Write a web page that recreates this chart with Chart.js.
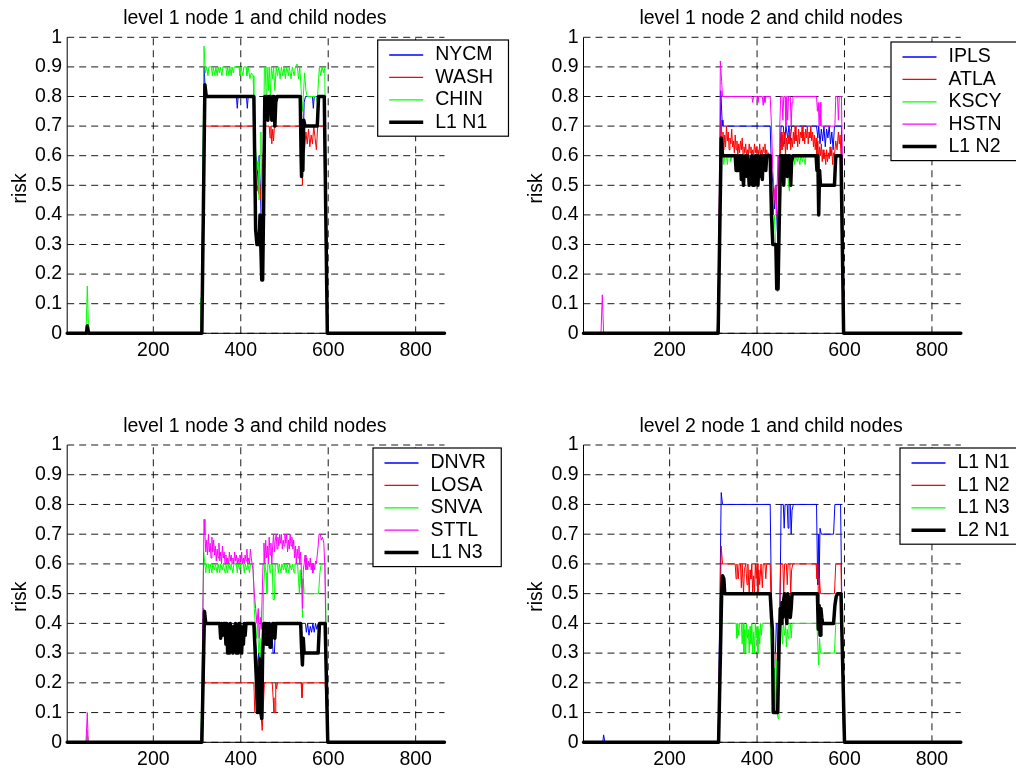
<!DOCTYPE html>
<html>
<head>
<meta charset="utf-8">
<script src="https://cdn.jsdelivr.net/npm/chart.js@4"></script>
<style>
  html, body { margin: 0; padding: 0; background: #fff; overflow: hidden; }
  #wrap { position: relative; width: 1016px; height: 771px; overflow: hidden; }
  canvas { position: absolute; }
</style>
</head>
<body>
<div id="wrap">
  <canvas id="c1" width="512" height="385" style="left:0;top:0"></canvas>
  <canvas id="c2" width="508" height="385" style="left:508px;top:0"></canvas>
  <canvas id="c3" width="512" height="400" style="left:0;top:385px"></canvas>
  <canvas id="c4" width="508" height="400" style="left:508px;top:385px"></canvas>
</div>
<script>
const FONT = "'Liberation Sans', Arial, Helvetica, sans-serif";
const FONT_SIZE = 19.5;
const xTicks = [200, 400, 600, 800];
const yTicks = [0, 0.1, 0.2, 0.3, 0.4, 0.5, 0.6, 0.7, 0.8, 0.9, 1];
const xMin = 3, xMax = 866;

// risk per time step, [t, risk] breakpoints

// level 1 node 1 children
const nycm = [[3,0],[46,0],[49,0.03],[52,0],[309,0],[312,0.3],[316,0.9],[319,0.82],[322,0.8],[390,0.8],[392,0.76],[394,0.8],
  [413,0.8],[415,0.76],[417,0.8],[430,0.8],[434,0.6],[437,0.58],[440,0.5],[442,0.6],[445,0.48],[448,0.3],[452,0.5],[455,0.8],
  [461,0.8],[463,0.72],[465,0.8],[477,0.8],[479,0.7],[481,0.8],[536,0.8],[538,0.76],[541,0.55],[545,0.78],[548,0.8],[564,0.8],
  [566,0.76],[568,0.8],[592,0.8],[596,0.4],[599,0],[866,0]];
const wash = [[3,0],[47,0],[49,0.02],[51,0],[309,0],[313,0.4],[317,0.7],[430,0.7],[434,0.55],[437,0.48],[439,0.5],[441,0.47],
  [443,0.52],[445,0.45],[447,0.5],[451,0.6],[455,0.7],[465,0.7],[467,0.66],[469,0.7],[471,0.64],[473,0.69],[475,0.65],[477,0.7],
  [536,0.7],[538,0.66],[540,0.62],[541,0.5],[543,0.67],[546,0.62],[549,0.68],[552,0.64],[555,0.69],[558,0.63],[561,0.67],
  [564,0.64],[567,0.7],[570,0.66],[573,0.62],[576,0.7],[591,0.7],[594,0.55],[597,0.3],[599,0],[866,0]];
const chin = [[3,0],[46,0],[49,0.16],[52,0],[307,0],[309,0.12],[311,0.02],[313,0.5],[316,0.97],[319,0.88],[322,0.9],[325,0.87],
  [327,0.9],[333,0.9],[335,0.87],[337,0.9],[341,0.87],[343,0.9],[346,0.87],[348,0.9],[351,0.88],[353,0.9],[357,0.87],[359,0.9],
  [366,0.9],[368,0.87],[370,0.9],[373,0.87],[375,0.9],[378,0.87],[380,0.9],[383,0.88],[385,0.9],[396,0.9],[398,0.87],[400,0.9],
  [405,0.87],[407,0.9],[412,0.9],[414,0.87],[417,0.9],[421,0.86],[424,0.88],[428,0.87],[430,0.8],[434,0.62],[437,0.55],[440,0.58],
  [442,0.45],[444,0.6],[446,0.68],[448,0.45],[450,0.3],[452,0.6],[454,0.9],[456,0.9],[458,0.8],[460,0.9],[463,0.82],[465,0.9],
  [468,0.8],[470,0.9],[473,0.86],[475,0.9],[478,0.82],[481,0.9],[484,0.87],[487,0.9],[490,0.86],[493,0.9],[496,0.87],[499,0.9],
  [502,0.86],[505,0.9],[509,0.87],[511,0.9],[515,0.86],[518,0.9],[522,0.87],[525,0.9],[529,0.91],[532,0.86],[535,0.9],[537,0.85],
  [539,0.8],[541,0.75],[543,0.8],[546,0.88],[549,0.82],[552,0.8],[572,0.8],[575,0.78],[578,0.86],[580,0.9],[583,0.87],[586,0.9],
  [589,0.88],[592,0.9],[595,0.5],[598,0.1],[600,0],[866,0]];
const l1n1 = [[3,0],[47,0],[49,0.025],[52,0],[311,0],[318,0.84],[321,0.8],[430,0.8],[434,0.35],[437,0.3],[442,0.3],[444,0.4],
  [446,0.4],[448,0.18],[450,0.18],[452,0.4],[455,0.8],[460,0.8],[462,0.72],[464,0.8],[469,0.8],[471,0.72],[473,0.8],[476,0.8],
  [478,0.7],[480,0.78],[483,0.8],[536,0.8],[538,0.6],[539,0.53],[541,0.7],[542,0.55],[544,0.72],[547,0.7],[575,0.7],[578,0.8],
  [591,0.8],[598,0],[866,0]];

// level 1 node 2 children
const ipls = [[3,0],[309,0],[311,0.1],[313,0.3],[317,0.82],[320,0.72],[322,0.7],[430,0.7],[433,0.55],[437,0.5],[440,0.42],
  [443,0.5],[446,0.35],[449,0.3],[452,0.6],[455,0.7],[460,0.7],[463,0.64],[466,0.7],[470,0.66],[473,0.7],[476,0.65],[479,0.7],
  [536,0.7],[539,0.66],[541,0.7],[544,0.64],[547,0.69],[550,0.65],[553,0.7],[556,0.63],[559,0.69],[562,0.66],[565,0.7],
  [568,0.64],[571,0.68],[574,0.62],[577,0.7],[593,0.7],[597,0.2],[600,0],[866,0]];
const atla = [[3,0],[309,0],[312,0.2],[315,0.6],[318,0.72],[320,0.64],[322,0.68],[324,0.62],[326,0.67],[328,0.63],[330,0.7],
  [332,0.65],[334,0.68],[336,0.62],[338,0.66],[340,0.64],[342,0.69],[344,0.63],[346,0.65],[348,0.61],[350,0.67],[352,0.62],
  [354,0.65],[356,0.6],[358,0.64],[360,0.61],[362,0.65],[364,0.62],[366,0.66],[368,0.6],[370,0.63],[372,0.61],[374,0.64],
  [376,0.6],[378,0.62],[380,0.6],[382,0.64],[384,0.61],[386,0.63],[388,0.6],[390,0.62],[392,0.6],[394,0.64],[396,0.61],
  [398,0.63],[400,0.6],[402,0.62],[404,0.6],[406,0.64],[408,0.6],[410,0.62],[412,0.6],[414,0.63],[416,0.61],[418,0.64],
  [420,0.6],[422,0.62],[424,0.6],[426,0.61],[429,0.6],[432,0.5],[435,0.45],[437,0.4],[440,0.48],[443,0.5],[446,0.4],[449,0.3],
  [452,0.55],[455,0.68],[457,0.62],[459,0.67],[461,0.63],[463,0.68],[465,0.6],[467,0.66],[469,0.62],[471,0.67],[473,0.64],
  [475,0.69],[477,0.62],[479,0.66],[481,0.63],[483,0.68],[485,0.64],[487,0.7],[489,0.65],[491,0.67],[493,0.63],[495,0.69],
  [497,0.64],[499,0.68],[501,0.66],[503,0.7],[505,0.65],[507,0.68],[509,0.64],[511,0.69],[513,0.66],[515,0.7],[517,0.64],
  [519,0.68],[521,0.66],[523,0.7],[525,0.65],[527,0.68],[529,0.63],[531,0.67],[533,0.62],[535,0.66],[537,0.6],[539,0.65],
  [541,0.58],[543,0.63],[545,0.6],[547,0.64],[549,0.58],[551,0.62],[553,0.59],[555,0.61],[557,0.57],[559,0.62],[561,0.58],
  [563,0.61],[565,0.59],[567,0.63],[569,0.6],[571,0.62],[573,0.57],[575,0.61],[577,0.6],[580,0.65],[583,0.62],[586,0.68],
  [588,0.64],[590,0.67],[592,0.6],[595,0.3],[598,0],[866,0]];
const kscy = [[3,0],[309,0],[312,0.2],[316,0.62],[319,0.6],[322,0.6],[324,0.57],[326,0.6],[330,0.6],[332,0.57],[334,0.6],
  [338,0.6],[340,0.58],[342,0.6],[428,0.6],[432,0.5],[435,0.4],[437,0.35],[440,0.4],[442,0.3],[445,0.25],[447,0.14],[449,0.2],
  [452,0.5],[455,0.6],[458,0.55],[460,0.5],[462,0.6],[466,0.55],[468,0.6],[472,0.5],[474,0.48],[476,0.58],[478,0.6],[484,0.6],
  [486,0.57],[488,0.6],[492,0.58],[494,0.6],[498,0.57],[500,0.6],[504,0.58],[506,0.6],[510,0.57],[512,0.6],[536,0.6],[538,0.55],
  [540,0.5],[542,0.58],[544,0.5],[578,0.5],[581,0.58],[584,0.6],[593,0.6],[596,0.3],[599,0],[866,0]];
const hstn = [[3,0],[43,0],[46,0.13],[49,0],[309,0],[311,0.12],[313,0.3],[316,0.92],[319,0.85],[321,0.8],[388,0.8],[390,0.78],
  [392,0.8],[400,0.8],[402,0.78],[404,0.8],[412,0.8],[414,0.77],[416,0.8],[418,0.78],[420,0.8],[430,0.8],[433,0.7],[436,0.55],
  [438,0.5],[440,0.45],[442,0.5],[444,0.4],[446,0.5],[448,0.6],[450,0.4],[452,0.7],[454,0.8],[457,0.8],[459,0.72],[461,0.8],
  [464,0.8],[466,0.7],[468,0.8],[470,0.72],[472,0.8],[476,0.8],[478,0.7],[480,0.78],[482,0.8],[536,0.8],[538,0.75],[540,0.78],
  [542,0.7],[544,0.78],[546,0.7],[578,0.7],[580,0.8],[584,0.8],[586,0.72],[588,0.8],[593,0.8],[596,0.5],[599,0],[866,0]];
const l1n2 = [[3,0],[311,0],[318,0.66],[321,0.6],[350,0.6],[352,0.55],[354,0.6],[357,0.55],[359,0.6],[362,0.6],[364,0.52],
  [366,0.6],[369,0.5],[371,0.58],[374,0.6],[377,0.53],[379,0.6],[382,0.5],[384,0.58],[386,0.55],[388,0.6],[390,0.5],[392,0.56],
  [394,0.5],[396,0.6],[398,0.55],[400,0.6],[402,0.5],[404,0.58],[406,0.53],[409,0.6],[412,0.52],[414,0.6],[418,0.6],[420,0.55],
  [422,0.6],[430,0.6],[433,0.4],[436,0.3],[443,0.3],[445,0.15],[448,0.15],[451,0.4],[454,0.6],[459,0.6],[461,0.5],[463,0.6],
  [467,0.6],[469,0.53],[471,0.6],[475,0.6],[477,0.5],[479,0.58],[482,0.6],[535,0.6],[537,0.55],[539,0.6],[541,0.4],[543,0.55],
  [545,0.5],[577,0.5],[580,0.6],[592,0.6],[598,0],[866,0]];

// level 1 node 3 children
const dnvr = [[3,0],[309,0],[312,0.2],[315,0.45],[318,0.42],[320,0.4],[430,0.4],[433,0.35],[436,0.3],[438,0.25],[441,0.3],
  [443,0.28],[446,0.2],[449,0.15],[452,0.3],[455,0.4],[470,0.4],[472,0.35],[474,0.3],[477,0.3],[479,0.38],[482,0.4],[548,0.4],
  [550,0.37],[553,0.4],[556,0.36],[559,0.39],[562,0.37],[565,0.4],[568,0.37],[571,0.4],[574,0.38],[577,0.4],[593,0.4],
  [596,0.2],[599,0],[866,0]];
const losa = [[3,0],[47,0],[49,0.03],[51,0],[309,0],[312,0.1],[315,0.23],[318,0.2],[430,0.2],[432,0.1],[437,0.1],[439,0.15],
  [442,0.1],[446,0.1],[449,0.04],[451,0.1],[454,0.2],[472,0.2],[474,0.15],[476,0.1],[479,0.1],[480,0.2],[482,0.18],[484,0.2],
  [538,0.2],[540,0.15],[542,0.2],[593,0.2],[596,0.1],[599,0],[866,0]];
const snva = [[3,0],[47,0],[49,0.04],[51,0],[309,0],[312,0.3],[315,0.64],[318,0.6],[320,0.57],[322,0.6],[326,0.6],[328,0.57],
  [330,0.6],[334,0.57],[336,0.6],[340,0.58],[342,0.6],[346,0.57],[348,0.6],[352,0.57],[354,0.6],[358,0.58],[360,0.6],[364,0.57],
  [366,0.6],[370,0.57],[372,0.6],[376,0.58],[378,0.6],[382,0.57],[384,0.6],[390,0.6],[392,0.57],[394,0.6],[398,0.58],[400,0.6],
  [406,0.6],[408,0.57],[410,0.6],[414,0.58],[416,0.6],[420,0.57],[422,0.6],[428,0.6],[431,0.45],[433,0.4],[436,0.35],[438,0.4],
  [441,0.3],[444,0.35],[447,0.2],[450,0.3],[452,0.5],[455,0.6],[458,0.57],[460,0.5],[462,0.6],[465,0.6],[467,0.57],[469,0.6],
  [472,0.6],[474,0.48],[477,0.48],[479,0.6],[484,0.6],[486,0.57],[488,0.6],[492,0.57],[494,0.6],[498,0.58],[500,0.6],[504,0.57],
  [506,0.6],[510,0.57],[512,0.6],[516,0.58],[518,0.6],[522,0.57],[524,0.6],[530,0.6],[532,0.55],[534,0.5],[536,0.58],[538,0.52],
  [540,0.55],[541,0.42],[543,0.55],[545,0.5],[578,0.5],[581,0.57],[584,0.6],[593,0.6],[596,0.3],[599,0],[866,0]];
const sttl = [[3,0],[46,0],[49,0.1],[51,0],[309,0],[311,0.08],[313,0.4],[316,0.75],[318,0.7],[320,0.64],[322,0.68],[324,0.63],
  [326,0.7],[328,0.64],[330,0.67],[332,0.62],[334,0.69],[336,0.64],[338,0.68],[340,0.63],[342,0.66],[344,0.61],[346,0.65],
  [348,0.62],[350,0.67],[352,0.61],[354,0.64],[356,0.6],[358,0.66],[360,0.62],[362,0.64],[364,0.6],[366,0.63],[368,0.6],
  [370,0.62],[372,0.6],[374,0.64],[376,0.61],[378,0.63],[380,0.6],[382,0.62],[384,0.6],[386,0.64],[388,0.61],[390,0.63],
  [392,0.6],[394,0.62],[396,0.6],[398,0.63],[400,0.61],[402,0.64],[404,0.6],[406,0.62],[408,0.6],[410,0.63],[412,0.61],
  [414,0.65],[416,0.6],[418,0.62],[420,0.6],[422,0.65],[424,0.62],[426,0.6],[428,0.58],[431,0.5],[434,0.45],[437,0.4],
  [440,0.45],[442,0.35],[445,0.42],[447,0.38],[449,0.5],[451,0.6],[453,0.67],[455,0.6],[457,0.68],[459,0.62],[461,0.66],
  [463,0.6],[465,0.69],[467,0.63],[469,0.67],[471,0.6],[473,0.66],[475,0.7],[477,0.64],[479,0.68],[481,0.7],[483,0.65],
  [485,0.69],[487,0.66],[489,0.7],[491,0.67],[493,0.7],[495,0.65],[497,0.68],[499,0.66],[501,0.7],[503,0.67],[505,0.7],
  [507,0.64],[509,0.68],[511,0.65],[513,0.7],[515,0.66],[517,0.69],[519,0.65],[521,0.68],[523,0.62],[525,0.66],[527,0.6],
  [529,0.65],[531,0.62],[533,0.66],[535,0.6],[537,0.64],[539,0.56],[541,0.45],[543,0.58],[545,0.6],[547,0.63],[549,0.58],
  [551,0.62],[553,0.58],[555,0.61],[557,0.59],[559,0.62],[561,0.58],[563,0.6],[565,0.57],[567,0.6],[569,0.58],[571,0.61],
  [573,0.6],[575,0.63],[577,0.66],[579,0.7],[582,0.7],[584,0.68],[587,0.69],[590,0.67],[592,0.6],[595,0.35],[598,0],[866,0]];
const l1n3 = [[3,0],[311,0],[317,0.44],[320,0.4],[352,0.4],[354,0.35],[356,0.4],[358,0.36],[360,0.4],[364,0.4],[366,0.33],
  [368,0.4],[370,0.3],[372,0.38],[374,0.3],[376,0.4],[378,0.35],[380,0.38],[382,0.3],[384,0.39],[386,0.33],[388,0.4],[390,0.3],
  [392,0.37],[394,0.3],[396,0.4],[398,0.35],[400,0.39],[402,0.3],[404,0.38],[406,0.33],[408,0.4],[410,0.36],[412,0.4],[430,0.4],
  [433,0.3],[436,0.2],[438,0.1],[440,0.25],[442,0.1],[444,0.28],[446,0.1],[448,0.08],[450,0.3],[453,0.4],[456,0.4],[458,0.33],
  [460,0.4],[463,0.36],[465,0.4],[467,0.32],[469,0.38],[471,0.35],[473,0.4],[476,0.4],[478,0.35],[480,0.4],[537,0.4],[539,0.32],
  [541,0.26],[543,0.35],[545,0.3],[577,0.3],[580,0.4],[593,0.4],[599,0],[866,0]];

// level 2 node 1
const l2n1 = [[3,0],[312,0],[319,0.5],[321,0.56],[324,0.55],[326,0.5],[430,0.5],[433,0.42],[435,0.38],[437,0.1],[447,0.1],
  [450,0.3],[453,0.45],[455,0.4],[457,0.47],[459,0.42],[461,0.48],[463,0.5],[466,0.45],[468,0.4],[470,0.5],[473,0.48],
  [476,0.42],[478,0.45],[480,0.5],[538,0.5],[540,0.38],[542,0.46],[544,0.36],[546,0.45],[548,0.42],[550,0.4],[575,0.4],
  [578,0.46],[581,0.49],[584,0.5],[592,0.5],[600,0],[866,0]];

function makeLine(label, pts, color, width) {
  return {
    label: label,
    data: pts.map((p) => ({ x: p[0], y: p[1] })),
    borderColor: color,
    borderWidth: width,
    pointRadius: 0,
    tension: 0,
    fill: false,
    clip: 5,
    borderJoinStyle: "round",
    borderCapStyle: "round",
  };
}

// dashed grid, axis lines, title, ylabel and the boxed legend
function decor(cfg) {
  return {
    id: "decor",
    beforeDatasetsDraw(chart) {
      const { ctx, chartArea: a, scales } = chart;
      ctx.save();
      ctx.strokeStyle = "rgba(0,0,0,0.9)";
      ctx.lineWidth = 1;
      ctx.setLineDash([7, 5]);
      scales.y.ticks.forEach((t) => {
        const py = scales.y.getPixelForValue(t.value);
        ctx.beginPath();
        ctx.moveTo(a.left, py);
        ctx.lineTo(a.right, py);
        ctx.stroke();
      });
      scales.x.ticks.forEach((t) => {
        const px = scales.x.getPixelForValue(t.value);
        ctx.beginPath();
        ctx.moveTo(px, a.bottom);
        ctx.lineTo(px, a.top);
        ctx.stroke();
      });
      ctx.setLineDash([]);
      ctx.strokeStyle = "#000";
      ctx.beginPath();
      ctx.moveTo(a.left, a.top);
      ctx.lineTo(a.left, a.bottom);
      ctx.lineTo(a.right, a.bottom);
      ctx.stroke();

      ctx.fillStyle = "#000";
      ctx.font = FONT_SIZE + "px " + FONT;
      ctx.textAlign = "center";
      ctx.textBaseline = "alphabetic";
      ctx.fillText(cfg.title, (a.left + a.right) / 2 - 1, a.top - 13.3);
      ctx.translate(a.left - 41.5, (a.top + a.bottom) / 2 + 3);
      ctx.rotate(-Math.PI / 2);
      ctx.fillText("risk", 0, 0);
      ctx.restore();
    },
    afterDatasetsDraw(chart) {
      const ctx = chart.ctx;
      const ds = chart.data.datasets;
      ctx.save();
      ctx.font = FONT_SIZE + "px " + FONT;
      const tw = Math.max(...ds.map((d) => ctx.measureText(d.label).width));
      const w = 57.5 + tw + 15.5;
      const h = 29 + (ds.length - 1) * 22.4;
      const bx = cfg.legendX, by = cfg.legendY;
      ctx.fillStyle = "#fff";
      ctx.fillRect(bx, by, w, h);
      ctx.strokeStyle = "#000";
      ctx.lineWidth = 1.2;
      ctx.strokeRect(bx, by, w, h);
      ds.forEach((d, i) => {
        const cy = by + 15 + i * 22.4;
        ctx.strokeStyle = d.borderColor;
        ctx.lineWidth = d.borderWidth > 2 ? d.borderWidth : 1.3;
        ctx.beginPath();
        ctx.moveTo(bx + 11.5, cy);
        ctx.lineTo(bx + 45.5, cy);
        ctx.stroke();
        ctx.fillStyle = "#000";
        ctx.textAlign = "left";
        ctx.textBaseline = "middle";
        ctx.fillText(d.label, bx + 57.5, cy);
      });
      ctx.restore();
    },
  };
}

function makeChart(id, cfg, datasets) {
  // later series sit on top, thick aggregate last
  datasets.forEach((d, i) => {
    d.order = datasets.length - i;
  });
  const tickFont = { family: FONT, size: FONT_SIZE };
  return new Chart(document.getElementById(id), {
    type: "line",
    data: { datasets: datasets },
    options: {
      responsive: false,
      animation: false,
      devicePixelRatio: 1,
      events: [],
      layout: { padding: cfg.pad },
      plugins: { legend: { display: false }, title: { display: false }, tooltip: { enabled: false } },
      scales: {
        x: {
          type: "linear",
          min: xMin,
          max: xMax,
          afterBuildTicks: (s) => { s.ticks = xTicks.map((v) => ({ value: v })); },
          afterFit: (s) => { s.height = 30; },
          grid: { display: false, drawTicks: false },
          border: { display: false },
          ticks: { color: "#000", font: tickFont, padding: 6, maxRotation: 0, autoSkip: false },
        },
        y: {
          type: "linear",
          min: 0,
          max: 1,
          afterBuildTicks: (s) => { s.ticks = yTicks.map((v) => ({ value: v })); },
          afterFit: (s) => { s.width = 50; },
          grid: { display: false, drawTicks: false },
          border: { display: false },
          ticks: { color: "#000", font: tickFont, padding: 5, autoSkip: false, callback: (v) => String(v) },
        },
      },
    },
    plugins: [decor(cfg)],
  });
}

makeChart("c1", { title: "level 1 node 1 and child nodes", legendX: 377.7, legendY: 40,
  pad: { left: 17.2, right: 67.5, top: 37.3, bottom: 21.7 } }, [
  makeLine("NYCM", nycm, "#0000ff", 1),
  makeLine("WASH", wash, "#ff0000", 1),
  makeLine("CHIN", chin, "#00ff00", 1),
  makeLine("L1 N1", l1n1, "#000000", 3.5),
]);

makeChart("c2", { title: "level 1 node 2 and child nodes", legendX: 383, legendY: 42,
  pad: { left: 25.5, right: 55.2, top: 37.3, bottom: 21.7 } }, [
  makeLine("IPLS", ipls, "#0000ff", 1),
  makeLine("ATLA", atla, "#ff0000", 1),
  makeLine("KSCY", kscy, "#00ff00", 1),
  makeLine("HSTN", hstn, "#ff00ff", 1),
  makeLine("L1 N2", l1n2, "#000000", 3.5),
]);

makeChart("c3", { title: "level 1 node 3 and child nodes", legendX: 373, legendY: 63,
  pad: { left: 17.2, right: 67.5, top: 60, bottom: 12.7 } }, [
  makeLine("DNVR", dnvr, "#0000ff", 1),
  makeLine("LOSA", losa, "#ff0000", 1),
  makeLine("SNVA", snva, "#00ff00", 1),
  makeLine("STTL", sttl, "#ff00ff", 1),
  makeLine("L1 N3", l1n3, "#000000", 3.5),
]);

makeChart("c4", { title: "level 2 node 1 and child nodes", legendX: 392, legendY: 63,
  pad: { left: 25.5, right: 55.2, top: 60, bottom: 12.7 } }, [
  makeLine("L1 N1", l1n1, "#0000ff", 1),
  makeLine("L1 N2", l1n2, "#ff0000", 1),
  makeLine("L1 N3", l1n3, "#00ff00", 1),
  makeLine("L2 N1", l2n1, "#000000", 3.5),
]);
</script>
</body>
</html>
